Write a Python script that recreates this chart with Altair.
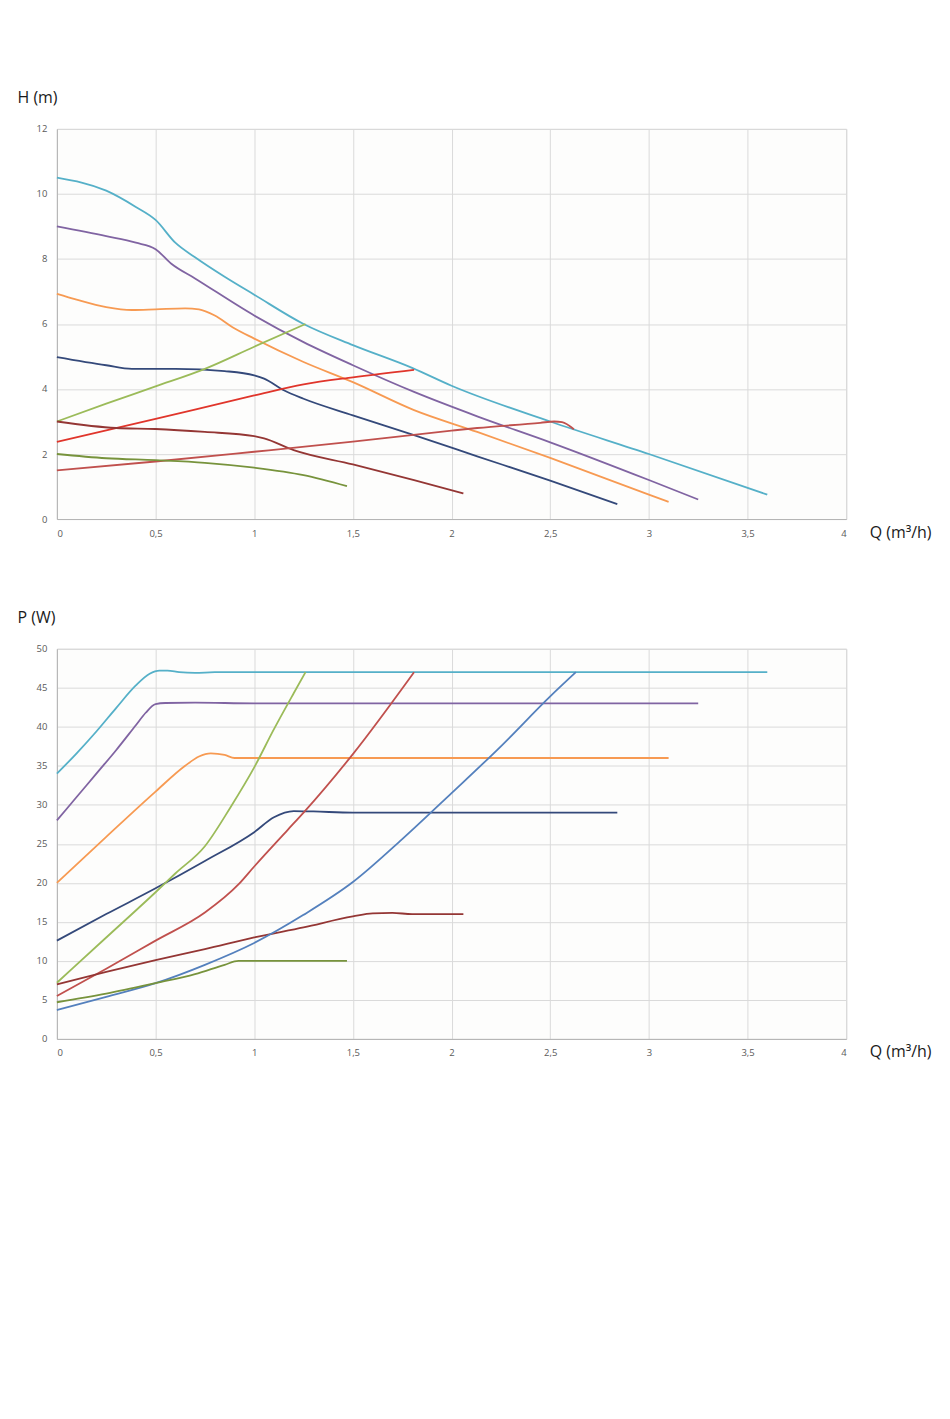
#!/usr/bin/env python3

"""Pump curves: head H(Q) and power P(Q) for the speed settings."""

import altair as alt
import pandas as pd

# --- head curves, H (m) against Q (m3/h) ---
h_teal_q = [0, 0.25, 0.4, 0.5, 0.6, 0.7, 0.85, 1.0, 1.25, 1.5, 1.8, 2.0, 2.5, 3.0, 3.6]
h_teal_v = [10.5, 10.1, 9.6, 9.2, 8.5, 8.05, 7.45, 6.9, 6.0, 5.35, 4.65, 4.1, 3.0, 2.0, 0.75]

h_purple_q = [0, 0.25, 0.4, 0.5, 0.58, 0.7, 1.0, 1.25, 1.5, 1.81, 2.13, 2.5, 3.0, 3.25]
h_purple_v = [9.0, 8.7, 8.5, 8.3, 7.85, 7.4, 6.26, 5.44, 4.73, 3.91, 3.16, 2.36, 1.2, 0.6]

h_orange_q = [0, 0.1, 0.25, 0.38, 0.5, 0.65, 0.72, 0.8, 0.89, 1.0, 1.25, 1.5, 1.81, 2.13, 2.5, 3.0, 3.1]
h_orange_v = [6.93, 6.75, 6.52, 6.43, 6.45, 6.48, 6.45, 6.26, 5.9, 5.55, 4.83, 4.21, 3.35, 2.68, 1.88, 0.75, 0.53]

h_navy_q = [0, 0.25, 0.38, 0.6, 0.85, 1.0, 1.05, 1.15, 1.25, 1.5, 1.81, 2.13, 2.5, 2.84]
h_navy_v = [4.98, 4.73, 4.62, 4.62, 4.55, 4.42, 4.32, 3.96, 3.7, 3.19, 2.58, 1.93, 1.18, 0.46]

h_green_q = [0, 0.25, 0.5, 0.75, 1.0, 1.26]
h_green_v = [3.0, 3.55, 4.08, 4.62, 5.3, 6.0]

h_red_q = [0, 0.5, 1.0, 1.25, 1.5, 1.81]
h_red_v = [2.37, 3.08, 3.8, 4.14, 4.36, 4.59]

h_darkred_q = [0, 0.3, 0.5, 0.75, 1.0, 1.05, 1.2, 1.5, 1.81, 2.06]
h_darkred_v = [3.0, 2.8, 2.77, 2.68, 2.55, 2.48, 2.12, 1.68, 1.2, 0.79]

h_brick_q = [0, 0.5, 1.0, 1.5, 2.0, 2.13, 2.45, 2.52, 2.56, 2.62]
h_brick_v = [1.5, 1.77, 2.07, 2.38, 2.72, 2.8, 2.96, 3.0, 2.98, 2.76]

h_olive_q = [0, 0.25, 0.5, 0.75, 1.0, 1.25, 1.47]
h_olive_v = [2.0, 1.87, 1.81, 1.73, 1.58, 1.35, 1.01]

# --- power curves, P (W) against Q (m3/h) ---
p_teal_q = [0, 0.1, 0.2, 0.3, 0.4, 0.47, 0.52, 0.56, 0.62, 0.7, 0.8, 1.0, 3.6]
p_teal_v = [34, 36.6, 39.4, 42.4, 45.3, 46.8, 47.2, 47.2, 47.0, 46.9, 47.0, 47.0, 47.0]

p_purple_q = [0, 0.1, 0.2, 0.3, 0.4, 0.45, 0.5, 0.55, 0.7, 1.0, 3.25]
p_purple_v = [28, 31, 34, 37, 40.2, 41.8, 42.9, 43.05, 43.1, 43.0, 43.0]

p_orange_q = [0, 0.25, 0.5, 0.65, 0.72, 0.78, 0.85, 0.9, 1.0, 3.1]
p_orange_v = [20, 25.9, 31.7, 35, 36.2, 36.6, 36.4, 36.0, 36.0, 36.0]

p_navy_q = [0, 0.25, 0.5, 0.75, 1.0, 1.1, 1.2, 1.3, 1.5, 2.84]
p_navy_v = [12.6, 16, 19.3, 22.8, 26.5, 28.4, 29.2, 29.15, 29.0, 29.0]

p_green_q = [0, 0.25, 0.5, 0.6, 0.75, 0.88, 1.0, 1.1, 1.2, 1.26]
p_green_v = [7.2, 13.0, 18.8, 21.2, 24.7, 29.7, 34.8, 39.7, 44.3, 47]

p_red_q = [0, 0.25, 0.5, 0.75, 0.92, 1.0, 1.17, 1.25, 1.5, 1.81]
p_red_v = [5.5, 9.0, 12.6, 16.2, 19.8, 22.1, 26.8, 29.0, 36.5, 47]

p_darkred_q = [0, 0.25, 0.5, 0.75, 1.0, 1.25, 1.5, 1.6, 1.7, 1.8, 2.06]
p_darkred_v = [7.0, 8.6, 10.1, 11.5, 13.0, 14.3, 15.7, 16.1, 16.15, 16.0, 16.0]

p_blue_q = [0, 0.25, 0.5, 0.75, 1.0, 1.25, 1.5, 1.75, 2.0, 2.25, 2.5, 2.63]
p_blue_v = [3.7, 5.4, 7.15, 9.5, 12.3, 15.9, 20.1, 25.6, 31.5, 37.5, 43.9, 47]

p_olive_q = [0, 0.25, 0.5, 0.7, 0.85, 0.92, 1.0, 1.47]
p_olive_v = [4.7, 5.8, 7.15, 8.3, 9.5, 10.0, 10.0, 10.0]

# series colours (Excel 2010 palette)
series_names = ["teal", "purple", "orange", "navy", "green", "red", "darkred", "brick", "blue", "olive"]
series_colors = ["#55b0c8", "#8064a2", "#f79a52", "#34497a", "#9bbb59",
                 "#e0352b", "#943634", "#c0504d", "#5480bd", "#77933c"]

x_ticks = [0, 0.5, 1, 1.5, 2, 2.5, 3, 3.5, 4]
FONT = "Open Sans"


def long_frame(curves):
    rows = []
    for name, qs, vs in curves:
        for i, (q, v) in enumerate(zip(qs, vs)):
            rows.append({"series": name, "q": q, "v": v, "i": i})
    return pd.DataFrame(rows)


def panel(df, ymax, ystep, ylabel, width=791, height=391):
    return alt.Chart(df).mark_line(strokeWidth=1.8, interpolate="monotone").encode(
        x=alt.X("q:Q", scale=alt.Scale(domain=[0, 4], nice=False),
                axis=alt.Axis(values=x_ticks, tickSize=0, labelPadding=9,
                              labelExpr="replace(format(datum.value, '~g'), '.', ',')",
                              title="Q (m³/h)", titleAngle=0, titleAlign="left",
                              titleBaseline="middle", titleX=width + 23, titleY=13,
                              titleFontSize=16, titleFontWeight="normal")),
        y=alt.Y("v:Q", scale=alt.Scale(domain=[0, ymax], nice=False),
                axis=alt.Axis(values=list(range(0, ymax + 1, ystep)), tickSize=0,
                              labelPadding=10, title=ylabel, titleAngle=0,
                              titleAlign="left", titleBaseline="middle",
                              titleX=-40, titleY=-31, titleFontSize=16,
                              titleFontWeight="normal")),
        color=alt.Color("series:N", scale=alt.Scale(domain=series_names, range=series_colors),
                        legend=None),
        order=alt.Order("i:Q"),
    ).properties(width=width, height=height)


head = long_frame([
    ("teal", h_teal_q, h_teal_v),
    ("purple", h_purple_q, h_purple_v),
    ("orange", h_orange_q, h_orange_v),
    ("navy", h_navy_q, h_navy_v),
    ("green", h_green_q, h_green_v),
    ("red", h_red_q, h_red_v),
    ("darkred", h_darkred_q, h_darkred_v),
    ("brick", h_brick_q, h_brick_v),
    ("olive", h_olive_q, h_olive_v),
])

power = long_frame([
    ("teal", p_teal_q, p_teal_v),
    ("purple", p_purple_q, p_purple_v),
    ("orange", p_orange_q, p_orange_v),
    ("navy", p_navy_q, p_navy_v),
    ("green", p_green_q, p_green_v),
    ("brick", p_red_q, p_red_v),
    ("darkred", p_darkred_q, p_darkred_v),
    ("blue", p_blue_q, p_blue_v),
    ("olive", p_olive_q, p_olive_v),
])

chart = alt.vconcat(
    panel(head, 12, 2, "H (m)"),
    panel(power, 50, 5, "P (W)"),
    spacing=68,
).properties(
    padding={"top": 80, "left": 8, "right": 10, "bottom": 10},
    background="white",
).configure_view(
    stroke="#d4d4d4", fill="#fdfdfc",
).configure_axis(
    grid=True, gridColor="#dadada", gridWidth=1,
    domainColor="#b4b4b4", labelColor="#5a5a5a", labelFontSize=9.5,
    labelFont=FONT, titleFont=FONT, titleColor="#1a1a1a",
)

chart.save("out.html", embed_options={"renderer": "svg", "actions": False})
